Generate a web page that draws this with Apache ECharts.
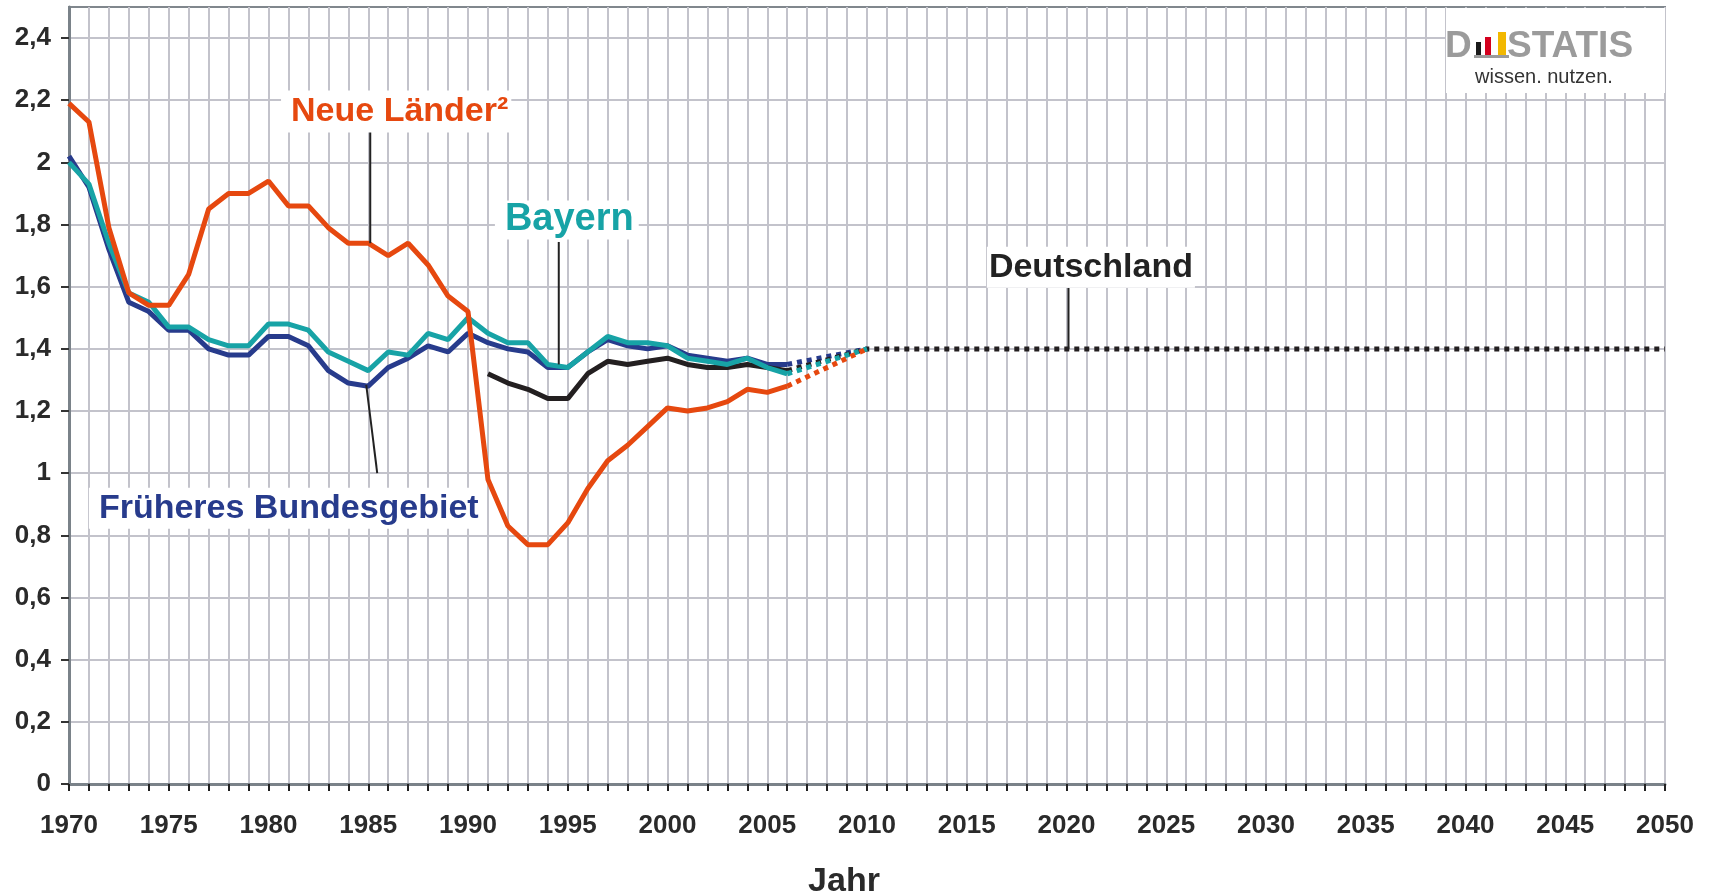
<!DOCTYPE html>
<html>
<head>
<meta charset="utf-8">
<title>Zusammengefasste Geburtenziffer</title>
<script src="https://cdn.jsdelivr.net/npm/echarts@6/dist/echarts.min.js"></script>
<style>
  html, body { margin: 0; padding: 0; background: #fff; }
  #chart { width: 1716px; height: 894px; }
</style>
</head>
<body>
<div id="chart"></div>
<script>
// Beobachtete Jahre 1970-2006
const jahre = [1970, 1971, 1972, 1973, 1974, 1975, 1976, 1977, 1978, 1979,
  1980, 1981, 1982, 1983, 1984, 1985, 1986, 1987, 1988, 1989,
  1990, 1991, 1992, 1993, 1994, 1995, 1996, 1997, 1998, 1999,
  2000, 2001, 2002, 2003, 2004, 2005, 2006];

const neueLaender = [2.19, 2.13, 1.79, 1.58, 1.54, 1.54, 1.64, 1.85, 1.90, 1.90,
  1.94, 1.86, 1.86, 1.79, 1.74, 1.74, 1.70, 1.74, 1.67, 1.57,
  1.52, 0.98, 0.83, 0.77, 0.77, 0.84, 0.95, 1.04, 1.09, 1.15,
  1.21, 1.20, 1.21, 1.23, 1.27, 1.26, 1.28];

const frueheresBundesgebiet = [2.02, 1.92, 1.72, 1.55, 1.52, 1.46, 1.46, 1.40, 1.38, 1.38,
  1.44, 1.44, 1.41, 1.33, 1.29, 1.28, 1.34, 1.37, 1.41, 1.39,
  1.45, 1.42, 1.40, 1.39, 1.34, 1.34, 1.39, 1.43, 1.41, 1.40,
  1.41, 1.38, 1.37, 1.36, 1.37, 1.35, 1.35];

const bayern = [2.00, 1.93, 1.74, 1.58, 1.55, 1.47, 1.47, 1.43, 1.41, 1.41,
  1.48, 1.48, 1.46, 1.39, 1.36, 1.33, 1.39, 1.38, 1.45, 1.43,
  1.50, 1.45, 1.42, 1.42, 1.35, 1.34, 1.39, 1.44, 1.42, 1.42,
  1.41, 1.37, 1.36, 1.35, 1.37, 1.34, 1.32];

// Deutschland erst ab 1991
const jahreDeutschland = [1991, 1992, 1993, 1994, 1995, 1996, 1997, 1998, 1999,
  2000, 2001, 2002, 2003, 2004, 2005, 2006];
const deutschland = [1.32, 1.29, 1.27, 1.24, 1.24, 1.32, 1.36, 1.35, 1.36,
  1.37, 1.35, 1.34, 1.34, 1.35, 1.34, 1.33];

// Annahme (gepunktet): Konvergenz auf 1,4 bis 2010, danach konstant
const annahmeJahre = [2010, 2050];
const annahmeWerte = [1.4, 1.4];

// Achsenbeschriftung
const xLabelJahre = [1970, 1975, 1980, 1985, 1990, 1995, 2000, 2005, 2010,
  2015, 2020, 2025, 2030, 2035, 2040, 2045, 2050];
const yTicks = [0, 0.2, 0.4, 0.6, 0.8, 1, 1.2, 1.4, 1.6, 1.8, 2, 2.2, 2.4];

const FONT = '"Liberation Sans", Arial, Helvetica, sans-serif';
const COLORS = {
  neue: '#e6480f',
  bayern: '#17a3a6',
  frueher: '#273b8c',
  de: '#231f20',
};

const pairs = (xs, ys) => xs.map((x, i) => [x, ys[i]]);

// gepunktete Fortschreibung ab dem letzten beobachteten Wert
const annahme = (xs, ys, bis) => {
  const out = [[xs[xs.length - 1], ys[ys.length - 1]]];
  annahmeJahre.forEach((j, i) => {
    if (j <= bis) out.push([j, annahmeWerte[i]]);
  });
  return out;
};

const solid = (name, data, color) => ({
  name,
  type: 'line',
  data,
  symbol: 'none',
  silent: true,
  lineStyle: { color, width: 5 },
});

const dotted = (name, data, color) => ({
  name: name + ' (Annahme)',
  type: 'line',
  data,
  symbol: 'none',
  silent: true,
  lineStyle: { color, width: 5, type: [5, 5], cap: 'butt' },
});

const chart = echarts.init(document.getElementById('chart'));

chart.setOption({
  animation: false,
  backgroundColor: '#fff',
  grid: {
    left: 69,
    right: 51,
    top: 7,
    bottom: 110,
    outerBoundsMode: 'none',
    show: true,
    borderColor: '#80878d',
    borderWidth: 2,
  },
  xAxis: {
    type: 'value',
    min: 1970,
    max: 2050,
    interval: 1,
    name: 'Jahr',
    nameLocation: 'middle',
    nameGap: 81,
    nameTextStyle: {
      fontFamily: FONT,
      fontSize: 34,
      fontWeight: 'bold',
      color: '#2a2a2a',
      padding: [0, 46, 0, 0],
    },
    axisLine: { show: true, lineStyle: { color: '#7a8289', width: 3 } },
    axisTick: { show: true, length: 7, lineStyle: { color: '#222', width: 2 } },
    axisLabel: {
      customValues: xLabelJahre,
      margin: 29,
      fontFamily: FONT,
      fontSize: 26,
      fontWeight: 'bold',
      color: '#2a2a2a',
      formatter: (v) => String(v),
    },
    splitLine: { show: true, lineStyle: { color: '#c3c3cb', width: 2 } },
  },
  yAxis: {
    type: 'value',
    min: 0,
    max: 2.5,
    interval: 0.2,
    axisLine: { show: true, lineStyle: { color: '#7a8289', width: 3 } },
    axisTick: { show: true, customValues: yTicks, length: 8, lineStyle: { color: '#333', width: 2 } },
    axisLabel: {
      customValues: yTicks,
      margin: 18,
      padding: [4, 0, 0, 0],
      fontFamily: FONT,
      fontSize: 26,
      fontWeight: 'bold',
      color: '#2a2a2a',
      formatter: (v) => String(Math.round(v * 10) / 10).replace('.', ','),
    },
    splitLine: { show: true, lineStyle: { color: '#c3c3cb', width: 2 } },
  },
  series: [
    solid('Früheres Bundesgebiet', pairs(jahre, frueheresBundesgebiet), COLORS.frueher),
    dotted('Früheres Bundesgebiet', annahme(jahre, frueheresBundesgebiet, 2010), COLORS.frueher),
    solid('Deutschland', pairs(jahreDeutschland, deutschland), COLORS.de),
    dotted('Deutschland', annahme(jahreDeutschland, deutschland, 2050), COLORS.de),
    solid('Bayern', pairs(jahre, bayern), COLORS.bayern),
    dotted('Bayern', annahme(jahre, bayern, 2010), COLORS.bayern),
    solid('Neue Länder', pairs(jahre, neueLaender), COLORS.neue),
    dotted('Neue Länder', annahme(jahre, neueLaender, 2010), COLORS.neue),
  ],
});

// Beschriftungen mit Hinweislinien, in Datenkoordinaten verankert
const labels = [
  { text: 'Neue Länder²', color: COLORS.neue, size: 34, at: [1981.13, 2.164], padding: [6, 3, 2, 10],
    leader: [[1985.1, 2.127], [1985.1, 1.74]] },
  { text: 'Bayern', color: COLORS.bayern, size: 38, at: [1991.85, 1.815], padding: [1, 5, 0, 10],
    leader: [[1994.55, 1.744], [1994.55, 1.35]] },
  { text: 'Deutschland', color: '#222', size: 34, at: [2016.11, 1.663], padding: [6, 2, 1, 2],
    leader: [[2020.1, 1.596], [2020.1, 1.40]] },
  { text: 'Früheres Bundesgebiet', color: COLORS.frueher, size: 34, at: [1971.5, 0.887], padding: [7, 1, 0, 10],
    leader: [[1984.9, 1.284], [1985.45, 1.0]] },
];

const toPx = (p) => chart.convertToPixel({ gridIndex: 0 }, p);

const graphics = [];
labels.forEach((l) => {
  const a = toPx(l.leader[0]);
  const b = toPx(l.leader[1]);
  graphics.push({
    type: 'line',
    z: 20,
    silent: true,
    shape: { x1: a[0], y1: a[1], x2: b[0], y2: b[1] },
    style: { stroke: '#222', lineWidth: 2 },
  });
  const p = toPx(l.at);
  graphics.push({
    type: 'text',
    z: 21,
    silent: true,
    x: p[0] - l.padding[3],
    y: p[1],
    style: {
      text: l.text,
      fill: l.color,
      font: 'bold ' + l.size + 'px ' + FONT,
      align: 'left',
      verticalAlign: 'middle',
      backgroundColor: '#fff',
      padding: l.padding,
    },
  });
});

// Logo oben rechts
graphics.push({
  type: 'group',
  left: 1445,
  top: 8,
  z: 30,
  silent: true,
  children: [
    { type: 'rect', shape: { x: 0, y: 0, width: 219, height: 85 }, style: { fill: '#fff' } },
    { type: 'text', x: -1, y: 20, style: { text: 'D', fill: '#9b9b9b', font: 'bold 37px ' + FONT, verticalAlign: 'top' } },
    { type: 'rect', shape: { x: 28, y: 47, width: 35, height: 3 }, style: { fill: '#9b9b9b' } },
    { type: 'rect', shape: { x: 30, y: 34, width: 5, height: 13 }, style: { fill: '#1a1a1a' } },
    { type: 'rect', shape: { x: 39, y: 29, width: 6, height: 18 }, style: { fill: '#d4001e' } },
    { type: 'rect', shape: { x: 52, y: 24, width: 8, height: 23 }, style: { fill: '#f2b800' } },
    { type: 'text', x: 61, y: 20, style: { text: 'STATIS', fill: '#9b9b9b', font: 'bold 37px ' + FONT, verticalAlign: 'top' } },
    { type: 'text', x: 29, y: 69, style: { text: 'wissen. nutzen.', fill: '#333', font: '20px ' + FONT, verticalAlign: 'middle' } },
  ],
});

chart.setOption({ graphic: graphics });
</script>
</body>
</html>
